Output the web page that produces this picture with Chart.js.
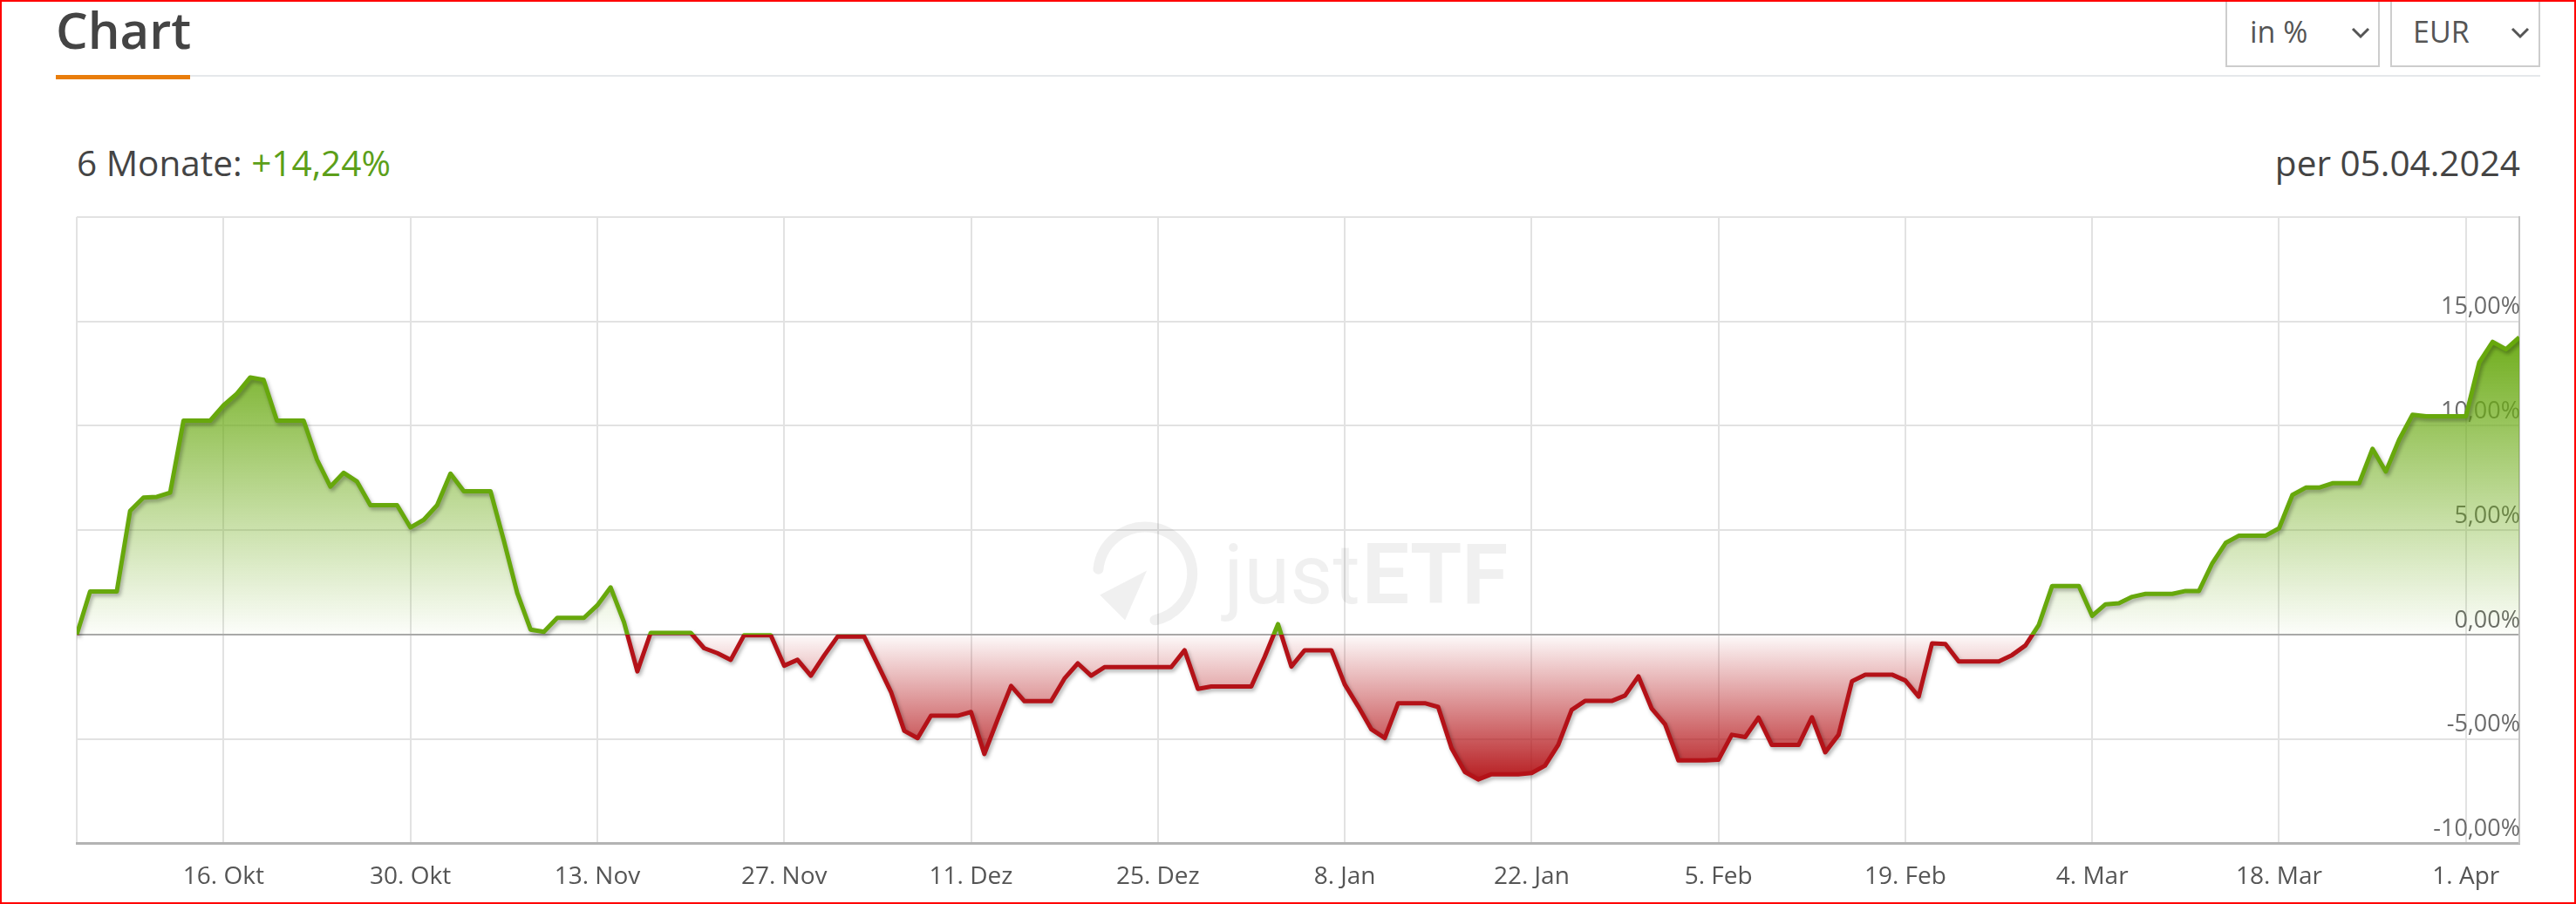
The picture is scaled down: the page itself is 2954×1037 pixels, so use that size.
<!DOCTYPE html>
<html>
<head>
<meta charset="utf-8">
<script src="https://cdn.jsdelivr.net/npm/chart.js@4.4.1/dist/chart.umd.min.js"></script>
<style>
  body { margin: 0; background: #fff; font-family: 'Open Sans', sans-serif; }
  #page { position: relative; width: 2954px; height: 1037px; overflow: hidden; background: #fff; }
  #outline { position: absolute; left: 0; top: 0; width: 2954px; height: 1037px; box-sizing: border-box; border: 2px solid #f00; pointer-events: none; }
  .abs { position: absolute; white-space: nowrap; line-height: 1; }
  #title { left: 64px; top: 5px; font-size: 58px; font-weight: 600; color: #444; }
  #tabBar { left: 64px; top: 86px; width: 154px; height: 5px; background: #e97d0b; }
  #rule { left: 218px; top: 86px; width: 2695px; height: 2px; background: #e5e8eb; }
  .box { position: absolute; top: -2px; height: 79px; box-sizing: border-box; border: 2px solid #cdcdcd; background: #fff; }
  .boxText { font-size: 34px; color: #555; top: 19px; }
  #perf { left: 88px; top: 167px; font-size: 40.5px; color: #444; }
  #perf span { color: #5c9f1a; }
  #asof { right: 64px; top: 167px; font-size: 40.5px; color: #444; }
  #chartWrap { position: absolute; left: 0; top: 230px; width: 2954px; height: 831px; }
</style>
</head>
<body>
<div id="page">
  <div class="abs" id="title">Chart</div>
  <div class="abs" id="tabBar"></div>
  <div class="abs" id="rule"></div>

  <div class="box" style="left:2552px; width:177px;"></div>
  <div class="abs boxText" style="left:2580px;">in %</div>
  <svg class="abs" style="left:2696px; top:31px;" width="22" height="14"><polyline points="2,2 11,11 20,2" fill="none" stroke="#555" stroke-width="3"/></svg>

  <div class="box" style="left:2741px; width:172px;"></div>
  <div class="abs boxText" style="left:2767px;">EUR</div>
  <svg class="abs" style="left:2879px; top:31px;" width="22" height="14"><polyline points="2,2 11,11 20,2" fill="none" stroke="#555" stroke-width="3"/></svg>

  <div class="abs" id="perf">6 Monate: <span>+14,24%</span></div>
  <div class="abs" id="asof">per 05.04.2024</div>

  <div id="chartWrap"><canvas id="perfChart" width="2954" height="831"></canvas></div>
  <div id="outline"></div>
</div>

<script>
// daily performance in %, 05.10.2023 (day 0) .. 05.04.2024 (day 183), weekends carry the last close
const values = [
  0, 2.06, 2.06, 2.06, 5.93, 6.56, 6.6, 6.8, 10.25, 10.25,
  10.25, 10.98, 11.54, 12.32, 12.2, 10.25, 10.25, 10.25, 8.38, 7.09,
  7.75, 7.33, 6.2, 6.2, 6.2, 5.13, 5.5, 6.2, 7.71, 6.87,
  6.87, 6.87, 4.5, 2.0, 0.24, 0.13, 0.8, 0.8, 0.8, 1.4,
  2.26, 0.6, -1.76, 0.08, 0.08, 0.08, 0.08, -0.65, -0.89, -1.21,
  -0.03, -0.03, -0.03, -1.49, -1.21, -1.97, -1.0, -0.1, -0.1, -0.1,
  -1.42, -2.74, -4.61, -4.96, -3.89, -3.89, -3.89, -3.71, -5.72, -4.06,
  -2.46, -3.19, -3.19, -3.19, -2.11, -1.38, -1.97, -1.56, -1.56, -1.56,
  -1.56, -1.56, -1.56, -0.75, -2.6, -2.49, -2.49, -2.49, -2.49, -1.07,
  0.5, -1.53, -0.75, -0.75, -0.75, -2.39, -3.43, -4.54, -4.96, -3.29,
  -3.29, -3.29, -3.47, -5.44, -6.58, -6.94, -6.69, -6.69, -6.69, -6.63,
  -6.28, -5.28, -3.61, -3.18, -3.18, -3.18, -2.92, -2.0, -3.55, -4.3,
  -6.03, -6.03, -6.03, -6.0, -4.8, -4.91, -3.98, -5.29, -5.29, -5.29,
  -3.96, -5.64, -4.8, -2.24, -1.92, -1.92, -1.92, -2.2, -2.97, -0.42,
  -0.45, -1.29, -1.29, -1.29, -1.29, -0.98, -0.52, 0.46, 2.33, 2.33,
  2.33, 0.9, 1.45, 1.5, 1.81, 1.95, 1.95, 1.95, 2.09, 2.09,
  3.42, 4.39, 4.74, 4.74, 4.74, 5.09, 6.69, 7.04, 7.04, 7.25,
  7.25, 7.25, 8.9, 7.81, 9.34, 10.53, 10.46, 10.46, 10.46, 10.46,
  13.04, 14.02, 13.67, 14.24
];

const tickDays = [11, 25, 39, 53, 67, 81, 95, 109, 123, 137, 151, 165, 179];
const tickLabels = ['16. Okt', '30. Okt', '13. Nov', '27. Nov', '11. Dez', '25. Dez', '8. Jan', '22. Jan', '5. Feb', '19. Feb', '4. Mar', '18. Mar', '1. Apr'];
const yTicks = [-10, -5, 0, 5, 10, 15, 20];

const lastDay = values.length - 1;

function lineColor(context) {
  const chart = context.chart;
  const area = chart.chartArea;
  if (!area) return '#67a80c';
  const f = (chart.scales.y.getPixelForValue(0) - area.top) / (area.bottom - area.top);
  const g = chart.ctx.createLinearGradient(0, area.top, 0, area.bottom);
  g.addColorStop(0, '#67a80c');
  g.addColorStop(f, '#67a80c');
  g.addColorStop(f, '#b41218');
  g.addColorStop(1, '#b41218');
  return g;
}

function areaColor(context) {
  const chart = context.chart;
  const area = chart.chartArea;
  if (!area) return 'rgba(110,172,22,0.3)';
  const y = chart.scales.y;
  const at = v => (y.getPixelForValue(v) - area.top) / (area.bottom - area.top);
  const g = chart.ctx.createLinearGradient(0, area.top, 0, area.bottom);
  g.addColorStop(0, 'rgba(100,164,14,1)');
  g.addColorStop(at(14), 'rgba(106,170,20,0.95)');
  g.addColorStop(at(0), 'rgba(110,172,22,0.02)');
  g.addColorStop(at(0), 'rgba(180,20,24,0.02)');
  g.addColorStop(at(-7), 'rgba(180,20,24,0.97)');
  g.addColorStop(1, 'rgba(180,20,24,1)');
  return g;
}

// justETF watermark behind the line
const watermark = {
  id: 'watermark',
  beforeDatasetsDraw(chart) {
    const c = chart.ctx, a = chart.chartArea;
    const cx = a.left + (a.right - a.left) * 0.4374;
    const cy = a.top + (a.bottom - a.top) * 0.570;
    c.save();
    c.fillStyle = 'rgba(0,0,0,0.06)';
    c.strokeStyle = 'rgba(0,0,0,0.06)';
    c.lineWidth = 12;
    c.lineCap = 'round';
    c.beginPath();
    c.arc(cx, cy, 54, 186 * Math.PI / 180, (78 + 360) * Math.PI / 180, false);
    c.stroke();
    c.beginPath();
    c.moveTo(cx - 52, cy + 24);
    c.lineTo(cx + 2, cy - 4);
    c.lineTo(cx - 23, cy + 53);
    c.closePath();
    c.fill();
    c.textBaseline = 'alphabetic';
    c.font = '400 96px Roboto';
    c.fillText('just', cx + 90, cy + 34);
    const w = c.measureText('just').width;
    c.font = '700 96px Roboto';
    c.fillText('ETF', cx + 92 + w, cy + 34);
    c.restore();
  }
};

// soft drop shadow under the line only
const lineShadow = {
  id: 'lineShadow',
  beforeDatasetDraw(chart) {
    const c = chart.ctx;
    c.save();
    c.shadowColor = 'rgba(0,0,0,0.3)';
    c.shadowBlur = 4;
    c.shadowOffsetX = 2;
    c.shadowOffsetY = 3;
  },
  afterDatasetDraw(chart) {
    chart.ctx.restore();
  }
};

const perfChart = new Chart(document.getElementById('perfChart').getContext('2d'), {
  type: 'line',
  data: {
    datasets: [{
      data: values.map((v, i) => ({ x: i, y: v })),
      borderColor: lineColor,
      backgroundColor: areaColor,
      borderWidth: 5,
      borderJoinStyle: 'round',
      fill: 'origin',
      pointRadius: 0,
      tension: 0
    }]
  },
  options: {
    responsive: false,
    animation: false,
    layout: { padding: { left: 88, right: 63, top: 19, bottom: 16 } },
    scales: {
      x: {
        type: 'linear',
        min: 0,
        max: lastDay,
        afterBuildTicks: axis => { axis.ticks = [0].concat(tickDays, [lastDay]).map(v => ({ value: v })); },
        grid: { color: '#e2e2e2', lineWidth: 2, drawTicks: false },
        border: { color: '#b3b3b3', width: 3 },
        ticks: {
          autoSkip: false,
          maxRotation: 0,
          padding: 22,
          color: '#555',
          font: { family: 'Open Sans', size: 28 },
          callback: v => { const i = tickDays.indexOf(v); return i >= 0 ? tickLabels[i] : ''; }
        }
      },
      y: {
        position: 'right',
        min: -10,
        max: 20,
        afterBuildTicks: axis => { axis.ticks = yTicks.map(v => ({ value: v })); },
        grid: {
          color: c => (c.tick && c.tick.value === 0 ? '#a9a9a9' : '#e2e2e2'),
          lineWidth: 2,
          drawTicks: false
        },
        border: { color: '#c4c4c4', width: 2 },
        ticks: {
          mirror: true,
          padding: 1,
          labelOffset: -16,
          color: '#6b6b6b',
          font: { family: 'Open Sans', size: 27 },
          callback: v => (v >= 20 ? '' : v.toFixed(2).replace('.', ',') + '%')
        }
      }
    },
    plugins: {
      legend: { display: false },
      tooltip: { enabled: false },
      filler: { drawTime: 'beforeDatasetsDraw' }
    }
  },
  plugins: [watermark, lineShadow]
});
</script>
</body>
</html>
